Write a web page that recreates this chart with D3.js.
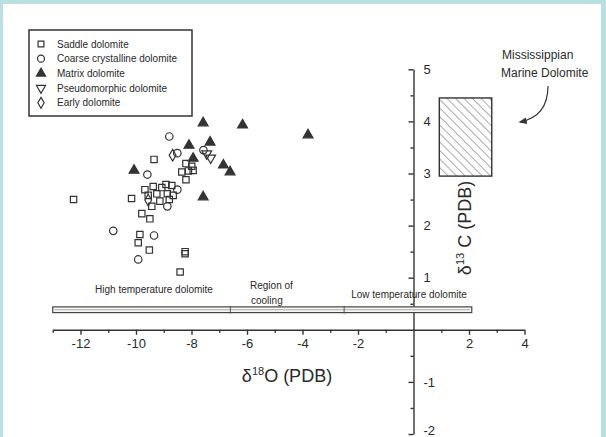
<!doctype html>
<html>
<head>
<meta charset="utf-8">
<title>Dolomite isotopes</title>
<script src="https://cdnjs.cloudflare.com/ajax/libs/d3/7.8.5/d3.min.js"></script>
<style>
body { margin: 0; background: #b9dfe0; }
svg { display: block; font-family: "Liberation Sans", Arial, sans-serif; }
.axis path, .axis line { stroke: #333; stroke-width: 1.4; }
.axis text { font-size: 13px; fill: #2a2a2a; }
</style>
</head>
<body>
<svg width="606" height="437"></svg>
<script>
// data: [d18O, d13C]
var saddle = [[-12.25, 2.50], [-10.16, 2.52], [-9.35, 3.27], [-8.20, 3.19], [-7.99, 3.14],
    [-8.35, 3.03], [-8.11, 3.05], [-7.94, 3.06], [-8.20, 2.88], [-9.68, 2.69], [-9.38, 2.75],
    [-9.07, 2.73], [-8.92, 2.79], [-8.71, 2.77], [-9.56, 2.58], [-9.25, 2.61], [-8.87, 2.61],
    [-8.66, 2.58], [-9.14, 2.47], [-8.80, 2.50], [-9.43, 2.37], [-9.79, 2.23], [-9.50, 2.13],
    [-9.86, 1.83], [-9.92, 1.67], [-9.52, 1.53], [-8.23, 1.46], [-8.23, 1.50], [-8.41, 1.11]];
var coarse = [[-8.80, 3.71], [-8.51, 3.39], [-9.59, 2.98], [-8.51, 2.69], [-8.87, 2.37],
    [-10.82, 1.90], [-9.35, 1.81], [-9.92, 1.35], [-7.57, 3.45]];
var matrix = [[-7.58, 3.97], [-6.16, 3.93], [-8.09, 3.54], [-7.33, 3.60], [-7.94, 3.29],
    [-10.07, 3.06], [-6.85, 3.16], [-6.61, 3.03], [-7.58, 2.55], [-3.8, 3.74]];
var pseudo = [[-7.45, 3.38], [-7.31, 3.30]];
var early = [[-8.68, 3.35], [-9.56, 2.49]];

var legendNames = ["Saddle dolomite", "Coarse crystalline dolomite", "Matrix dolomite",
    "Pseudomorphic dolomite", "Early dolomite"];
var xTicks = [-12, -10, -8, -6, -4, -2, 2, 4];
var xMinor = [-13, -11, -9, -7, -5, -3, -1, 1, 3];
var yTicks = [-2, -1, 1, 2, 3, 4, 5];
var yMinor = [-1.5, -0.5, 0.5, 1.5, 2.5, 3.5, 4.5];

// temperature band and Mississippian marine field
var band = { x0: -13, x1: 2.1, y0: 0.33, y1: 0.44, dividers: [-6.6, -2.5] };
var marine = { x0: 0.93, x1: 2.82, y0: 2.95, y1: 4.45 };

var svg = d3.select("svg");
var ink = "#333";
var plain = function (d) { return String(d); };

svg.append("rect").attr("x", 3).attr("y", 4).attr("width", 598).attr("height", 433).attr("fill", "#fff");

var x = d3.scaleLinear().domain([-13, 4]).range([52.75, 524.5]);
var y = d3.scaleLinear().domain([-2, 5]).range([434, 69.3]);

var defs = svg.append("defs");
defs.append("pattern").attr("id", "hatch").attr("patternUnits", "userSpaceOnUse")
    .attr("width", 6).attr("height", 6).attr("patternTransform", "rotate(-45)")
    .append("line").attr("x1", 0).attr("y1", 0).attr("x2", 0).attr("y2", 6)
    .attr("stroke", "#666").attr("stroke-width", 1.1);
defs.append("marker").attr("id", "arrow").attr("viewBox", "0 0 10 10")
    .attr("refX", 8).attr("refY", 5).attr("markerWidth", 7).attr("markerHeight", 7)
    .attr("orient", "auto")
    .append("path").attr("d", "M0,1L10,5L0,9z").attr("fill", ink);

// x axis
svg.append("g").attr("class", "axis").attr("transform", "translate(0," + y(0) + ")")
    .call(d3.axisBottom(x).tickValues(xTicks).tickFormat(plain).tickSize(5).tickSizeOuter(0).tickPadding(4));
svg.append("g").attr("class", "axis").attr("transform", "translate(0," + y(0) + ")")
    .call(d3.axisBottom(x).tickValues(xMinor).tickSize(3).tickFormat(""))
    .select(".domain").remove();

// y axis, ticks to the left, labels to the right
var yAxis = svg.append("g").attr("class", "axis").attr("transform", "translate(" + x(0) + ",0)")
    .call(d3.axisRight(y).tickValues(yTicks).tickFormat(plain).tickSize(-5).tickSizeOuter(0).tickPadding(10));
yAxis.selectAll(".tick text").filter(function (d) { return d === -2; }).attr("dy", "0.05em");
svg.append("g").attr("class", "axis").attr("transform", "translate(" + x(0) + ",0)")
    .call(d3.axisRight(y).tickValues(yMinor).tickSize(-3).tickFormat(""))
    .select(".domain").remove();

// temperature band
svg.append("rect")
    .attr("x", x(band.x0)).attr("y", y(band.y1))
    .attr("width", x(band.x1) - x(band.x0)).attr("height", y(band.y0) - y(band.y1))
    .attr("fill", "#f6f6f2").attr("stroke", "#444").attr("stroke-width", 1.2);
svg.append("line")
    .attr("x1", x(band.x0) + 2).attr("x2", x(band.x1) - 2)
    .attr("y1", y((band.y0 + band.y1) / 2)).attr("y2", y((band.y0 + band.y1) / 2))
    .attr("stroke", "#aaa").attr("stroke-width", 1);
svg.selectAll(".divider").data(band.dividers).enter().append("line")
    .attr("x1", function (d) { return x(d); }).attr("x2", function (d) { return x(d); })
    .attr("y1", y(band.y1) - 1).attr("y2", y(band.y0) + 1)
    .attr("stroke", "#555").attr("stroke-width", 1);

function label(txt, px, py, anchor, size) {
    return svg.append("text").attr("x", px).attr("y", py).attr("text-anchor", anchor || "start")
        .attr("font-size", size || "10px").attr("fill", "#2a2a2a").text(txt);
}
label("High temperature dolomite", 154, 293, "middle");
label("Region of", 250, 289);
label("cooling", 251, 304);
label("Low temperature dolomite", 409, 298, "middle");

// Mississippian marine dolomite field
svg.append("rect")
    .attr("x", x(marine.x0)).attr("y", y(marine.y1))
    .attr("width", x(marine.x1) - x(marine.x0)).attr("height", y(marine.y0) - y(marine.y1))
    .attr("fill", "url(#hatch)").attr("stroke", ink).attr("stroke-width", 1.4);
label("Mississippian", 502, 59, "start", "12px");
label("Marine Dolomite", 501, 77, "start", "12px");
svg.append("path").attr("d", "M548,86 C548,104 540,118 520,122")
    .attr("fill", "none").attr("stroke", ink).attr("stroke-width", 1.2)
    .attr("marker-end", "url(#arrow)");

// axis titles
var xt = svg.append("text").attr("x", 287).attr("y", 382).attr("text-anchor", "middle")
    .attr("font-size", "18px").attr("fill", "#2a2a2a");
xt.append("tspan").text("\u03B4");
xt.append("tspan").attr("font-size", "11px").attr("dy", -7).text("18");
xt.append("tspan").attr("dy", 7).text("O (PDB)");

var yt = svg.append("text").attr("transform", "translate(471,228) rotate(-90)")
    .attr("text-anchor", "middle").attr("font-size", "18px").attr("fill", "#2a2a2a");
yt.append("tspan").text("\u03B4");
yt.append("tspan").attr("font-size", "11px").attr("dy", -7).text("13");
yt.append("tspan").attr("dy", 7).text(" C (PDB)");

// points
var shapes = [
    { data: saddle, type: d3.symbolSquare, size: 40, fill: "none", rot: 0 },
    { data: coarse, type: d3.symbolCircle, size: 44, fill: "none", rot: 0 },
    { data: matrix, type: d3.symbolTriangle, size: 42, fill: ink, rot: 0 },
    { data: pseudo, type: d3.symbolTriangle, size: 42, fill: "none", rot: 180 },
    { data: early, type: d3.symbolDiamond, size: 40, fill: "none", rot: 0 }
];
shapes.forEach(function (s) {
    svg.append("g").selectAll("path").data(s.data).enter().append("path")
        .attr("d", d3.symbol().type(s.type).size(s.size))
        .attr("transform", function (d) {
            return "translate(" + x(d[0]) + "," + y(d[1]) + ") rotate(" + s.rot + ")";
        })
        .attr("fill", s.fill).attr("stroke", "#333").attr("stroke-width", 1.2);
});

// legend
var lg = svg.append("g");
lg.append("rect").attr("x", 29).attr("y", 30).attr("width", 163).attr("height", 86)
    .attr("fill", "#fff").attr("stroke", ink).attr("stroke-width", 1.5);
legendNames.forEach(function (name, i) {
    var s = shapes[i], ly = 44 + i * 14.7;
    lg.append("path").attr("d", d3.symbol().type(s.type).size(s.size - 6))
        .attr("transform", "translate(41," + ly + ") rotate(" + s.rot + ")")
        .attr("fill", s.fill).attr("stroke", "#333").attr("stroke-width", 1.2);
    lg.append("text").attr("x", 57).attr("y", ly + 3.5).attr("font-size", "10px")
        .attr("fill", "#2a2a2a").text(name);
});
</script>
</body>
</html>
